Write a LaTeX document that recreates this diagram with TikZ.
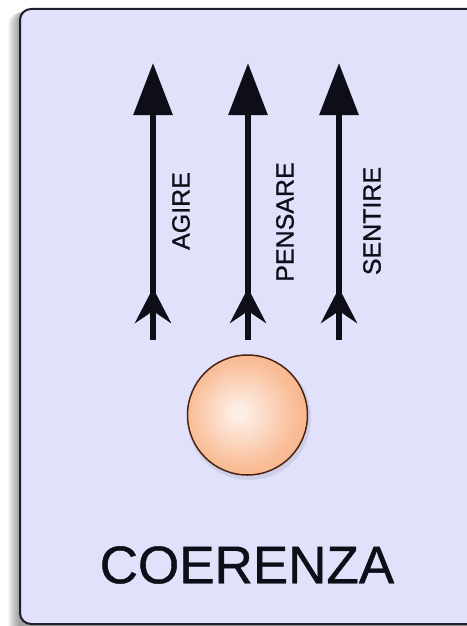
\documentclass[tikz,border=0pt]{standalone}
\usepackage{fontspec}
\setmainfont{Liberation Sans}
\newfontfamily\heavy{Liberation Sans}[FakeBold=0.8]
\usetikzlibrary{arrows.meta,decorations.markings}
\definecolor{boxfill}{HTML}{E1E1FB}
\definecolor{boxline}{HTML}{1E1E2C}
\definecolor{ballin}{HTML}{FDEDE4}
\definecolor{ballmid}{HTML}{F9BE98}
\definecolor{ballout}{HTML}{F2955C}
\definecolor{ballline}{HTML}{4A2414}
\definecolor{ink}{HTML}{0E0E18}
\pgfdeclareradialshading{ballshade}{\pgfpoint{-4bp}{1bp}}{color(0bp)=(ballin); color(3bp)=(ballin); color(22bp)=(ballmid); color(50bp)=(ballout)}
\begin{document}
\begin{tikzpicture}[x=1pt,y=-1pt,
  arrowline/.style={line width=6pt, draw=ink, -{Triangle[length=52pt,width=38pt]},
    postaction={decorate},
    decoration={markings, mark=at position 52pt with {\arrow{Stealth[length=35pt,width=36pt,inset=12pt]}}}},
  lbl/.style={font=\heavy\fontsize{25}{30}\selectfont, text=ink, rotate=90, inner sep=0pt},
  title/.style={font=\heavy\fontsize{53}{60}\selectfont, text=ink, inner sep=0pt},
  ballstyle/.style={circle, minimum size=120pt, inner sep=0pt, shading=ballshade, draw=ballline, line width=1.5pt}]
\useasboundingbox (0,0) rectangle (466,626);
\fill[white] (0,0) rectangle (466,626);
% soft shadow on the left
\foreach \i in {1,...,12}
  \fill[black, opacity=0.035, rounded corners=12pt] (20-\i,9+0.3*\i) rectangle (490,640);
% panel
\draw[fill=boxfill, draw=boxline, line width=2pt, rounded corners=11pt] (20,9) rectangle (480,624);
% arrow end points
\coordinate (a1s) at (153,340); \coordinate (a1e) at (153,63);
\coordinate (a2s) at (248,340); \coordinate (a2e) at (248,63);
\coordinate (a3s) at (339,340); \coordinate (a3e) at (339,63);
\draw[arrowline] (a1s) -- (a1e);
\draw[arrowline] (a2s) -- (a2e);
\draw[arrowline] (a3s) -- (a3e);
% labels
\node[lbl] (agire) at (181,211) {AGIRE};
\node[lbl] (pensare) at (285,222) {PENSARE};
\node[lbl] (sentire) at (372,221) {SENTIRE};
% ball
\fill[black, opacity=0.08] (249,418) circle (62pt);
\node[ballstyle] (ball) at (247.5,415) {};
% title
\node[title] (coerenza) at (247,565) {COERENZA};
\end{tikzpicture}
\end{document}
